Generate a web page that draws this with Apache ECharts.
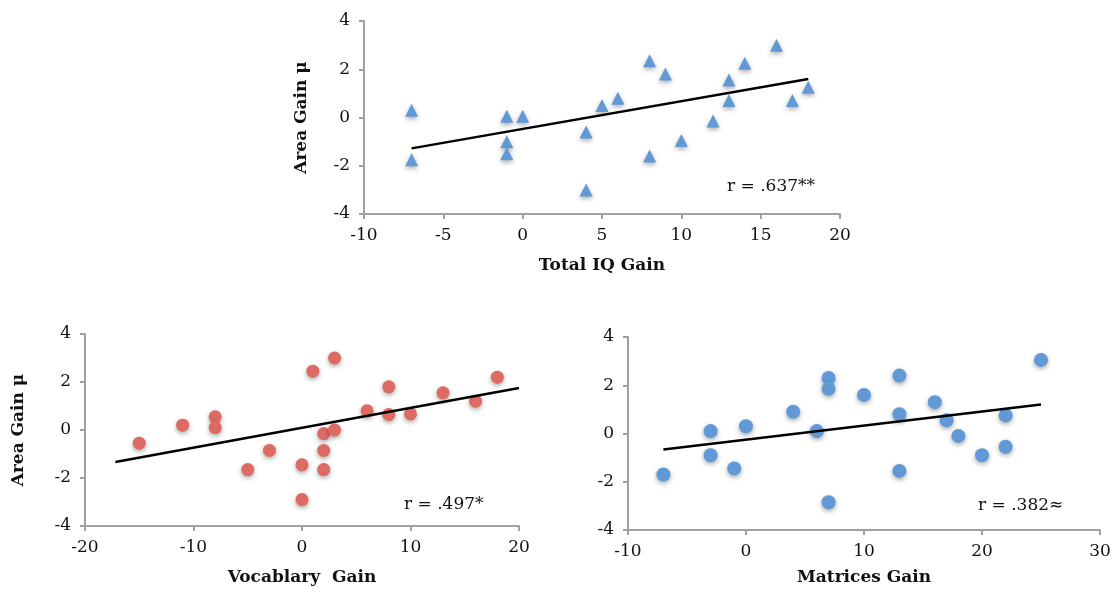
<!DOCTYPE html>
<html>
<head>
<meta charset="utf-8">
<script src="https://cdn.jsdelivr.net/npm/echarts@6/dist/echarts.min.js"></script>
<style>
  html, body { margin: 0; padding: 0; background: #fff; }
  #main { width: 1117px; height: 594px; }
</style>
</head>
<body>
<div id="main"></div>
<script>
// Total IQ gain vs area gain
var iqPoints = [
  [-7, 0.3], [-7, -1.75], [-1, 0.05], [0, 0.05], [-1, -1.0], [-1, -1.5],
  [4, -0.6], [4, -3.0], [5, 0.5], [6, 0.8], [8, 2.35], [8, -1.6],
  [9, 1.8], [10, -0.95], [12, -0.15], [13, 1.55], [13, 0.7], [14, 2.25],
  [16, 3.0], [17, 0.7], [18, 1.25]
];
var iqTrend = [[-7, -1.28], [18, 1.6]];

// Vocabulary gain vs area gain
var vocabPoints = [
  [-15, -0.55], [-11, 0.2], [-8, 0.55], [-8, 0.1], [-5, -1.65], [-3, -0.85],
  [0, -1.45], [0, -2.9], [1, 2.45], [2, -0.15], [2, -0.85], [2, -1.65],
  [3, 3.0], [3, 0.0], [6, 0.8], [8, 1.8], [8, 0.65], [10, 0.67],
  [13, 1.55], [16, 1.2], [18, 2.2]
];
var vocabTrend = [[-17.2, -1.33], [20, 1.75]];

// Matrices gain vs area gain
var matPoints = [
  [-7, -1.7], [-3, 0.1], [-3, -0.9], [-1, -1.45], [0, 0.3], [4, 0.9],
  [6, 0.1], [7, 2.3], [7, 1.85], [7, -2.85], [10, 1.6], [13, 2.4],
  [13, 0.8], [13, -1.55], [16, 1.3], [17, 0.55], [18, -0.1], [20, -0.9],
  [22, 0.75], [22, -0.55], [25, 3.05]
];
var matTrend = [[-7, -0.66], [25, 1.2]];

var yTicks = { min: -4, max: 4, interval: 2 };
var rLabels = ['r = .637**', 'r = .497*', 'r = .382≈'];

var font = 'DejaVu Serif';
var axisGray = '#a0a0a0';

function xAx(idx, min, max, interval, name, gap) {
  return {
    type: 'value', gridIndex: idx, min: min, max: max, interval: interval,
    name: name, nameLocation: 'middle', nameGap: gap,
    nameTextStyle: { fontFamily: font, fontWeight: 'bold', fontSize: 17, color: '#111' },
    axisLine: { show: true, onZero: false, lineStyle: { color: axisGray, width: 2 } },
    axisTick: { show: true, length: 5, lineStyle: { color: axisGray, width: 2 } },
    axisLabel: { fontFamily: font, fontSize: 17, color: '#111', margin: 13 },
    splitLine: { show: false }
  };
}
function yAx(idx, name, gap) {
  return {
    type: 'value', gridIndex: idx, min: yTicks.min, max: yTicks.max, interval: yTicks.interval,
    name: name, nameLocation: 'middle', nameGap: gap,
    nameTextStyle: { fontFamily: font, fontWeight: 'bold', fontSize: 17, color: '#111' },
    axisLine: { show: true, onZero: false, lineStyle: { color: axisGray, width: 2 } },
    axisTick: { show: true, length: 5, lineStyle: { color: axisGray, width: 2 } },
    axisLabel: { fontFamily: font, fontSize: 17, color: '#111', margin: 14 },
    splitLine: { show: false }
  };
}
function pts(idx, data, symbol, color, size) {
  return {
    type: 'scatter', xAxisIndex: idx, yAxisIndex: idx, data: data,
    symbol: symbol, symbolSize: size,
    itemStyle: { color: color, opacity: 1, shadowColor: 'rgba(0,0,0,0.35)', shadowBlur: 5, shadowOffsetY: 2 },
    z: 2
  };
}
function trend(idx, data) {
  return {
    type: 'line', xAxisIndex: idx, yAxisIndex: idx, data: data,
    symbol: 'none', lineStyle: { color: '#000', width: 2.5 }, z: 3, silent: true
  };
}

var chart = echarts.init(document.getElementById('main'));
chart.setOption({
  backgroundColor: '#fff',
  animation: false,
  grid: [
    { left: 364, width: 476, top: 21, height: 193 },
    { left: 85, width: 434, top: 334, height: 192 },
    { left: 628, width: 472, top: 337, height: 193 }
  ],
  xAxis: [
    xAx(0, -10, 20, 5, 'Total IQ Gain', 43),
    xAx(1, -20, 20, 10, 'Vocablary  Gain', 43),
    xAx(2, -10, 30, 10, 'Matrices Gain', 39)
  ],
  yAxis: [
    yAx(0, 'Area Gain μ', 54),
    yAx(1, 'Area Gain μ', 58),
    yAx(2, '', 40)
  ],
  series: [
    pts(0, iqPoints, 'triangle', '#6198d6', 13),
    trend(0, iqTrend),
    pts(1, vocabPoints, 'circle', '#dd6a63', 13),
    trend(1, vocabTrend),
    pts(2, matPoints, 'circle', '#6198d6', 14),
    trend(2, matTrend)
  ],
  graphic: [
    { type: 'text', left: 727, top: 178, style: { text: rLabels[0], font: '17px "DejaVu Serif"', fill: '#111' } },
    { type: 'text', left: 404, top: 496, style: { text: rLabels[1], font: '17px "DejaVu Serif"', fill: '#111' } },
    { type: 'text', left: 978, top: 497, style: { text: rLabels[2], font: '17px "DejaVu Serif"', fill: '#111' } }
  ]
});
</script>
</body>
</html>
